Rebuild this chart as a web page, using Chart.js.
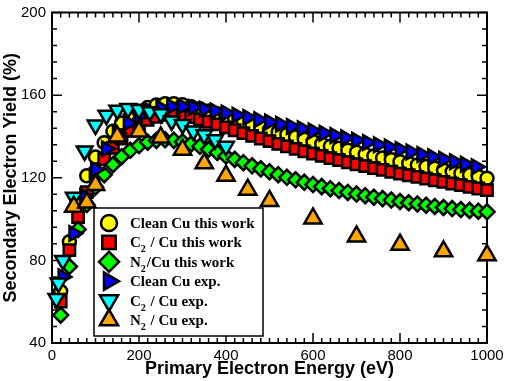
<!DOCTYPE html>
<html>
<head>
<meta charset="utf-8">
<script src="https://cdn.jsdelivr.net/npm/chart.js@4.4.0/dist/chart.umd.min.js"></script>
<style>
  html, body { margin: 0; padding: 0; background: #fff; }
</style>
</head>
<body>
<canvas id="seyChart" width="505" height="381"></canvas>
<script>
// tick labels
var energyTicks = [0, 200, 400, 600, 800, 1000];
var yieldTicks = [40, 80, 120, 160, 200];

// this work (calculated), every 20 eV
var energyTheory = [20, 40, 60, 80, 100, 120, 140, 160, 180, 200,
  220, 240, 260, 280, 300, 320, 340, 360, 380, 400,
  420, 440, 460, 480, 500, 520, 540, 560, 580, 600,
  620, 640, 660, 680, 700, 720, 740, 760, 780, 800,
  820, 840, 860, 880, 900, 920, 940, 960, 980, 1000];
var cleanCuTheory = [65, 89, 108, 121, 130, 137, 142.5, 146.5, 149.7, 152.2,
  154, 155.2, 155.8, 155.8, 155.3, 154.4, 153.4, 152.3, 151.0, 149.7,
  148.4, 147.1, 145.8, 144.5, 143.3, 142.1, 140.9, 139.7, 138.6, 137.5,
  136.4, 135.3, 134.3, 133.3, 132.3, 131.4, 130.5, 129.6, 128.7, 127.8,
  127.0, 126.2, 125.4, 124.6, 123.8, 123.0, 122.2, 121.4, 120.6, 119.8];
var c2CuTheory = [60, 85, 101, 113, 122, 129, 134.5, 139, 142.8, 146,
  148, 149.5, 150.5, 150.8, 150.4, 149.4, 148.3, 147.1, 145.8, 144.4,
  143.0, 141.6, 140.3, 139.0, 137.7, 136.4, 135.2, 134.0, 132.8, 131.7,
  130.6, 129.5, 128.5, 127.5, 126.5, 125.6, 124.7, 123.8, 122.9, 122.0,
  121.2, 120.4, 119.6, 118.8, 118.0, 117.2, 116.4, 115.6, 114.8, 114.0];
var n2CuTheory = [53.5, 77, 95, 107, 115.5, 121.5, 126.3, 130.2, 133.3, 135.6,
  137.2, 138.1, 138.4, 138.1, 137.4, 136.4, 135.2, 133.8, 132.2, 130.5,
  128.9, 127.3, 125.8, 124.3, 122.9, 121.5, 120.2, 119.0, 117.8, 116.7,
  115.7, 114.7, 113.8, 112.9, 112.1, 111.3, 110.6, 109.9, 109.2, 108.5,
  107.9, 107.3, 106.7, 106.1, 105.6, 105.1, 104.6, 104.2, 103.8, 103.5];

// experiment
var energyCleanExp = [25, 50, 75, 100, 125, 150, 175, 200, 225, 250,
  275, 300, 325, 350, 375, 400, 425, 450, 475, 500,
  525, 550, 575, 600, 625, 650, 675, 700, 725, 750,
  775, 800, 825, 850, 875, 900, 925, 950, 975];
var cleanCuExp = [72, 93, 111, 124, 134, 141.5, 146.5, 150, 152.3, 153.8,
  154.5, 154.5, 154, 153.2, 152.3, 151.3, 150.3, 149.2, 148.1, 147,
  145.9, 144.8, 143.7, 142.6, 141.5, 140.4, 139.3, 138.2, 137.1, 136,
  134.9, 133.7, 132.5, 131.3, 130.1, 128.9, 127.7, 126.5, 125.3];

var energyC2Exp = [10, 15, 25, 50, 75, 100, 125, 150, 175, 200,
  225, 250, 275, 300, 325, 350, 375, 400];
var c2CuExp = [61.5, 69, 80, 110.5, 133, 145.5, 150.3, 152.7, 153.5, 153,
  152, 151, 147.5, 145.8, 142.6, 140.8, 138.4, 135.2];

var energyN2Exp = [50, 80, 100, 150, 200, 250, 300, 350, 400, 450,
  500, 600, 700, 800, 900, 1000];
var n2CuExp = [106, 108, 116.5, 140, 142.4, 139.5, 133.6, 127, 121, 114.2,
  108.8, 100.3, 91.6, 87.6, 84.4, 82.5];

function toPoints(xs, ys) {
  return xs.map(function (x, i) { return { x: x, y: ys[i] }; });
}

// legend rows, drawn inside the plot like the original
var legendRows = [
  { parts: [['Clean Cu this work']], style: 'circle', rot: 0, color: '#ffff00', r: 8 },
  { parts: [['C'], ['2', 1], [' / Cu this work']], style: 'rect', rot: 0, color: '#ff0000', r: 9.5 },
  { parts: [['N'], ['2', 1], ['/Cu this work']], style: 'rectRot', rot: 0, color: '#00ff00', r: 10 },
  { parts: [['Clean Cu exp.']], style: 'triangle', rot: 90, color: '#0000ff', r: 10 },
  { parts: [['C'], ['2', 1], [' / Cu exp.']], style: 'triangle', rot: 180, color: '#00ffff', r: 10.5 },
  { parts: [['N'], ['2', 1], [' / Cu exp.']], style: 'triangle', rot: 0, color: '#ffa500', r: 10.5 }
];

var decorations = {
  id: 'decorations',
  beforeDatasetsDraw: function (chart) {
    var ctx = chart.ctx, a = chart.chartArea;
    var xs = chart.scales.x, ys = chart.scales.y;
    var v, p, len;
    ctx.save();
    ctx.strokeStyle = '#000';
    ctx.lineWidth = 1.5;
    ctx.beginPath();
    for (v = 0; v <= 1000; v += 20) {
      p = xs.getPixelForValue(v);
      len = v % 200 === 0 ? 10 : 5;
      ctx.moveTo(p, a.bottom); ctx.lineTo(p, a.bottom - len);
      ctx.moveTo(p, a.top); ctx.lineTo(p, a.top + len);
    }
    for (v = 40; v <= 200; v += 8) {
      p = ys.getPixelForValue(v);
      len = v % 40 === 0 ? 10 : 5;
      ctx.moveTo(a.left, p); ctx.lineTo(a.left + len, p);
      ctx.moveTo(a.right, p); ctx.lineTo(a.right - len, p);
    }
    ctx.stroke();
    ctx.lineWidth = 2;
    ctx.strokeRect(a.left, a.top, a.right - a.left, a.bottom - a.top);
    ctx.restore();
  },
  afterDatasetsDraw: function (chart) {
    var ctx = chart.ctx;
    ctx.save();
    // legend box
    ctx.fillStyle = '#fff';
    ctx.fillRect(94, 208, 169, 128);
    ctx.strokeStyle = '#000';
    ctx.lineWidth = 1.5;
    ctx.strokeRect(94, 208, 169, 128);
    legendRows.forEach(function (row, i) {
      var cy = 223 + i * 19.4;
      ctx.fillStyle = row.color;
      ctx.strokeStyle = '#000';
      ctx.lineWidth = 2.5;
      Chart.helpers.drawPoint(ctx, { pointStyle: row.style, rotation: row.rot, radius: row.r, borderWidth: 2.5 }, 109, cy);
      var tx = 130;
      ctx.fillStyle = '#000';
      ctx.textBaseline = 'alphabetic';
      row.parts.forEach(function (part) {
        ctx.font = part[1] ? 'bold 10px "Liberation Serif"' : 'bold 15px "Liberation Serif"';
        ctx.fillText(part[0], tx, cy + 5 + (part[1] ? 5 : 0));
        tx += ctx.measureText(part[0]).width + (part[1] ? 1 : 0);
      });
    });
    ctx.restore();
  },
  afterDraw: function (chart) {
    var ctx = chart.ctx, a = chart.chartArea;
    ctx.save();
    ctx.fillStyle = '#000';
    ctx.font = 'bold 18px "Liberation Sans"';
    ctx.textAlign = 'center';
    ctx.textBaseline = 'alphabetic';
    ctx.fillText('Primary Electron Energy (eV)', (a.left + a.right) / 2, 374);
    ctx.translate(16, (a.top + a.bottom) / 2);
    ctx.rotate(-Math.PI / 2);
    ctx.fillText('Secondary Electron Yield (%)', 0, 0);
    ctx.restore();
  }
};

var markerStyle = { borderColor: '#000', pointBorderWidth: 2.5, showLine: false, clip: false };

function plainTick(value) {
  return String(value);
}

var ctx = document.getElementById('seyChart').getContext('2d');
var seyChart = new Chart(ctx, {
  type: 'scatter',
  data: {
    datasets: [
      Object.assign({ label: 'Clean Cu this work', data: toPoints(energyTheory, cleanCuTheory), order: 6,
        pointStyle: 'circle', pointRadius: 6.5, backgroundColor: '#ffff00' }, markerStyle),
      Object.assign({ label: 'C2 / Cu this work', data: toPoints(energyTheory, c2CuTheory), order: 5,
        pointStyle: 'rect', pointRadius: 8, backgroundColor: '#ff0000' }, markerStyle),
      Object.assign({ label: 'N2/Cu this work', data: toPoints(energyTheory, n2CuTheory), order: 4,
        pointStyle: 'rectRot', pointRadius: 7.5, backgroundColor: '#00ff00' }, markerStyle),
      Object.assign({ label: 'Clean Cu exp.', data: toPoints(energyCleanExp, cleanCuExp), order: 3,
        pointStyle: 'triangle', pointRotation: 90, pointRadius: 8.5, backgroundColor: '#0000ff' }, markerStyle),
      Object.assign({ label: 'C2 / Cu exp.', data: toPoints(energyC2Exp, c2CuExp), order: 2,
        pointStyle: 'triangle', pointRotation: 180, pointRadius: 9, backgroundColor: '#00ffff' }, markerStyle),
      Object.assign({ label: 'N2 / Cu exp.', data: toPoints(energyN2Exp, n2CuExp), order: 1,
        pointStyle: 'triangle', pointRadius: 10, backgroundColor: '#ffa500' }, markerStyle)
    ]
  },
  options: {
    responsive: false,
    animation: false,
    events: [],
    layout: {
      padding: { top: 7, right: 18, left: 0, bottom: 0 }
    },
    plugins: {
      legend: { display: false },
      tooltip: { enabled: false }
    },
    scales: {
      x: {
        type: 'linear',
        min: 0,
        max: 1000,
        afterBuildTicks: function (scale) {
          scale.ticks = energyTicks.map(function (v) { return { value: v }; });
        },
        afterFit: function (scale) {
          scale.height = 38;
          scale.paddingLeft = 0;
          scale.paddingRight = 0;
        },
        grid: { display: false, drawTicks: false },
        border: { display: false },
        ticks: {
          color: '#000',
          padding: 4,
          maxRotation: 0,
          callback: plainTick,
          font: { family: 'Liberation Sans', size: 15 }
        }
      },
      y: {
        type: 'linear',
        min: 40,
        max: 200,
        afterBuildTicks: function (scale) {
          scale.ticks = yieldTicks.map(function (v) { return { value: v }; });
        },
        afterFit: function (scale) {
          scale.width = 52;
          scale.paddingTop = 0;
          scale.paddingBottom = 0;
        },
        grid: { display: false, drawTicks: false },
        border: { display: false },
        ticks: {
          color: '#000',
          padding: 6,
          callback: plainTick,
          font: { family: 'Liberation Sans', size: 15 }
        }
      }
    }
  },
  plugins: [decorations]
});
</script>
</body>
</html>
